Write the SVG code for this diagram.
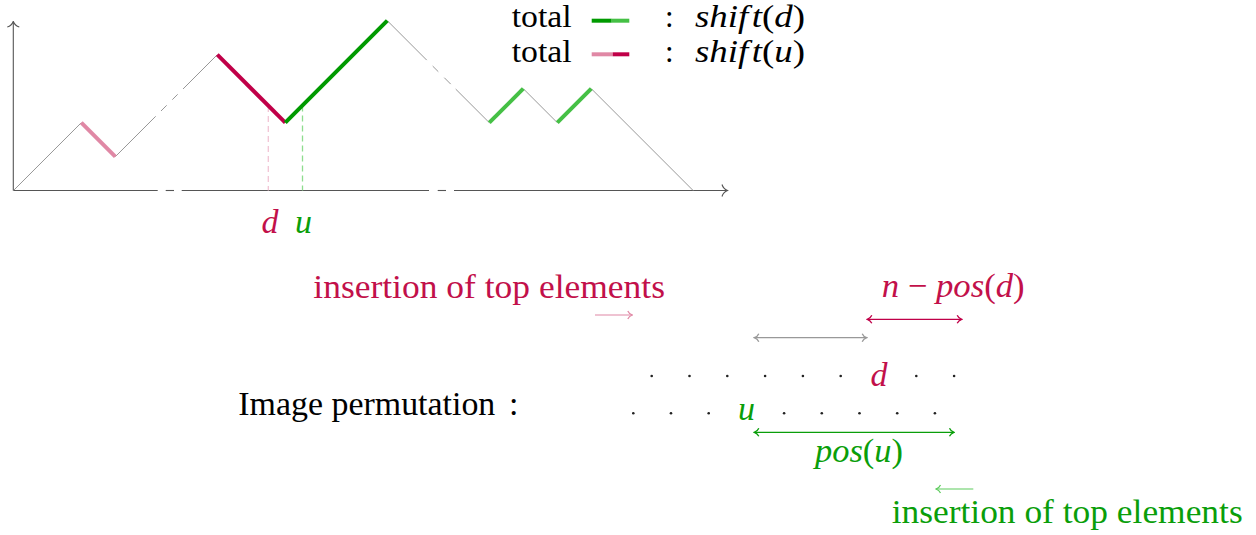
<svg xmlns="http://www.w3.org/2000/svg" width="1256" height="535" viewBox="0 0 1256 535">
<style>
text{font-family:'Liberation Serif','DejaVu Serif',serif}
.t{font-size:34px}
.lg{font-size:31px}
.i{font-style:italic}
.cr{fill:#C2104A}
.gr{fill:#0A9E0A}
.ax{stroke:#555;stroke-width:1.1;fill:none}
.pa{stroke:#8c8c8c;stroke-width:0.9;fill:none}
.thick{stroke-width:4;fill:none;stroke-linecap:butt}
.dot{fill:#222}
</style>
<defs>
<marker id="tipAx" viewBox="-7 -7 8 14" markerWidth="8" markerHeight="14" refX="0" refY="0" markerUnits="userSpaceOnUse" orient="auto-start-reverse">
<path d="M-5.5,-6 C-4.5,-2.5 -1.5,-0.6 0,0 C-1.5,0.6 -4.5,2.5 -5.5,6" fill="none" stroke="#555" stroke-width="1.1"/>
</marker>
<marker id="tipCr" viewBox="-6 -5 7 10" markerWidth="7" markerHeight="10" refX="0" refY="0" markerUnits="userSpaceOnUse" orient="auto-start-reverse">
<path d="M-4.5,-4 C-3.5,-1.6 -1.2,-0.4 0,0 C-1.2,0.4 -3.5,1.6 -4.5,4" fill="none" stroke="#C00048" stroke-width="1.3"/>
</marker>
<marker id="tipPk" viewBox="-6 -5 7 10" markerWidth="7" markerHeight="10" refX="0" refY="0" markerUnits="userSpaceOnUse" orient="auto-start-reverse">
<path d="M-4.5,-4 C-3.5,-1.6 -1.2,-0.4 0,0 C-1.2,0.4 -3.5,1.6 -4.5,4" fill="none" stroke="#E088A5" stroke-width="1.2"/>
</marker>
<marker id="tipGy" viewBox="-6 -5 7 10" markerWidth="7" markerHeight="10" refX="0" refY="0" markerUnits="userSpaceOnUse" orient="auto-start-reverse">
<path d="M-4.5,-4 C-3.5,-1.6 -1.2,-0.4 0,0 C-1.2,0.4 -3.5,1.6 -4.5,4" fill="none" stroke="#999" stroke-width="1.3"/>
</marker>
<marker id="tipGr" viewBox="-6 -5 7 10" markerWidth="7" markerHeight="10" refX="0" refY="0" markerUnits="userSpaceOnUse" orient="auto-start-reverse">
<path d="M-4.5,-4 C-3.5,-1.6 -1.2,-0.4 0,0 C-1.2,0.4 -3.5,1.6 -4.5,4" fill="none" stroke="#0A9E0A" stroke-width="1.3"/>
</marker>
<marker id="tipLg" viewBox="-6 -5 7 10" markerWidth="7" markerHeight="10" refX="0" refY="0" markerUnits="userSpaceOnUse" orient="auto-start-reverse">
<path d="M-4.5,-4 C-3.5,-1.6 -1.2,-0.4 0,0 C-1.2,0.4 -3.5,1.6 -4.5,4" fill="none" stroke="#5CCB5C" stroke-width="1.2"/>
</marker>
</defs>

<g id="axes">
<line class="ax" x1="13.3" y1="190.5" x2="13.3" y2="21.5" marker-end="url(#tipAx)"/>
<line class="ax" x1="13.3" y1="190.5" x2="157.7" y2="190.5"/>
<line class="ax" x1="165.7" y1="190.5" x2="174" y2="190.5"/>
<line class="ax" x1="181.7" y1="190.5" x2="429" y2="190.5"/>
<line class="ax" x1="437.7" y1="190.5" x2="446" y2="190.5"/>
<line class="ax" x1="454" y1="190.5" x2="727.5" y2="190.5" marker-end="url(#tipAx)"/>
</g>

<g id="path">
<line class="pa" x1="13.3" y1="190.7" x2="81.3" y2="122.7"/>
<line class="pa" x1="115.3" y1="156.7" x2="155.7" y2="116.3"/>
<line class="pa" x1="161" y1="111" x2="166.7" y2="105.3"/>
<line class="pa" x1="172.3" y1="99.7" x2="177.7" y2="94.3"/>
<line class="pa" x1="183" y1="89" x2="217.3" y2="54.7"/>
<line class="pa" x1="387.3" y1="20.7" x2="426.7" y2="60.1"/>
<line class="pa" x1="432.7" y1="66.1" x2="438.3" y2="71.7"/>
<line class="pa" x1="444.3" y1="77.7" x2="450.7" y2="84.1"/>
<line class="pa" x1="455.7" y1="89.1" x2="489.3" y2="122.7"/>
<line class="pa" x1="523.3" y1="88.7" x2="557.3" y2="122.7"/>
<line class="pa" x1="591.3" y1="88.7" x2="693.3" y2="190.7"/>
<line x1="268.3" y1="106" x2="268.3" y2="190.5" stroke="#F2C4D4" stroke-width="1.3" stroke-dasharray="6 4"/>
<line x1="302.5" y1="105.5" x2="302.5" y2="190.5" stroke="#8EDC8E" stroke-width="1.3" stroke-dasharray="6 4"/>
<line class="thick" stroke="#E088A5" x1="81.3" y1="122.7" x2="115.3" y2="156.7"/>
<line class="thick" stroke="#C00048" x1="217.3" y1="54.7" x2="285.3" y2="122.7"/>
<line class="thick" stroke="#009A00" x1="285.3" y1="122.7" x2="387.3" y2="20.7"/>
<line class="thick" stroke="#45C045" x1="489.3" y1="122.7" x2="523.3" y2="88.7"/>
<line class="thick" stroke="#45C045" x1="557.3" y1="122.7" x2="591.3" y2="88.7"/>
<text class="t i cr" x="261.5" y="232.5">d</text>
<text class="t i gr" x="295" y="232.5">u</text>
</g>

<g id="legend">
<text class="lg" x="511.7" y="27" textLength="60" lengthAdjust="spacingAndGlyphs">total</text>
<line x1="591.7" y1="20.7" x2="611.7" y2="20.7" stroke="#009A00" stroke-width="4"/>
<line x1="611.7" y1="20.7" x2="629.3" y2="20.7" stroke="#45C045" stroke-width="4"/>
<text class="lg" x="665" y="27">:</text>
<text class="lg" x="695" y="27" textLength="110" lengthAdjust="spacingAndGlyphs"><tspan class="i">shif</tspan><tspan class="i" dx="3">t</tspan>(<tspan class="i">d</tspan>)</text>
<text class="lg" x="511.7" y="61.5" textLength="60" lengthAdjust="spacingAndGlyphs">total</text>
<line x1="591.7" y1="54.3" x2="612.7" y2="54.3" stroke="#E088A5" stroke-width="4"/>
<line x1="612.7" y1="54.3" x2="629.3" y2="54.3" stroke="#C00048" stroke-width="4"/>
<text class="lg" x="665" y="61.5">:</text>
<text class="lg" x="695" y="61.5" textLength="110" lengthAdjust="spacingAndGlyphs"><tspan class="i">shif</tspan><tspan class="i" dx="3">t</tspan>(<tspan class="i">u</tspan>)</text>
</g>

<g id="label-image">
<text class="t" x="238.3" y="415" textLength="257" lengthAdjust="spacingAndGlyphs">Image permutation</text>
<text class="t" x="509" y="415">:</text>
</g>

<g id="row-top">
<circle class="dot" cx="651.7" cy="376" r="1.3"/>
<circle class="dot" cx="689.5" cy="376" r="1.3"/>
<circle class="dot" cx="727.3" cy="376" r="1.3"/>
<circle class="dot" cx="765.1" cy="376" r="1.3"/>
<circle class="dot" cx="802.9" cy="376" r="1.3"/>
<circle class="dot" cx="840.7" cy="376" r="1.3"/>
<text class="t i cr" x="870.5" y="386">d</text>
<circle class="dot" cx="916.3" cy="376" r="1.3"/>
<circle class="dot" cx="954.1" cy="376" r="1.3"/>
</g>

<g id="row-bottom">
<circle class="dot" cx="633.3" cy="413.3" r="1.3"/>
<circle class="dot" cx="671" cy="413.3" r="1.3"/>
<circle class="dot" cx="708.7" cy="413.3" r="1.3"/>
<text class="t i gr" x="738" y="420">u</text>
<circle class="dot" cx="784.1" cy="413.3" r="1.3"/>
<circle class="dot" cx="821.8" cy="413.3" r="1.3"/>
<circle class="dot" cx="859.5" cy="413.3" r="1.3"/>
<circle class="dot" cx="897.2" cy="413.3" r="1.3"/>
<circle class="dot" cx="934.9" cy="413.3" r="1.3"/>
</g>

<g id="connectors">
<line x1="595" y1="315" x2="632.3" y2="315" stroke="#E088A5" stroke-width="1.1" marker-end="url(#tipPk)"/>
<line x1="867.3" y1="319.3" x2="961.7" y2="319.3" stroke="#C00048" stroke-width="1.3" marker-start="url(#tipCr)" marker-end="url(#tipCr)"/>
<line x1="754.3" y1="337.7" x2="866.7" y2="337.7" stroke="#999" stroke-width="1.3" marker-start="url(#tipGy)" marker-end="url(#tipGy)"/>
<line x1="754.3" y1="432.3" x2="954" y2="432.3" stroke="#0A9E0A" stroke-width="1.3" marker-start="url(#tipGr)" marker-end="url(#tipGr)"/>
<line x1="973.3" y1="489" x2="936" y2="489" stroke="#5CCB5C" stroke-width="1.1" marker-end="url(#tipLg)"/>
</g>

<g id="labels">
<text class="t cr" x="313.3" y="298.3" textLength="351.7" lengthAdjust="spacingAndGlyphs">insertion of top elements</text>
<text class="t cr" x="881.7" y="297" textLength="143" lengthAdjust="spacingAndGlyphs"><tspan class="i">n</tspan> − <tspan class="i">pos</tspan>(<tspan class="i">d</tspan>)</text>
<text class="t gr" x="815" y="461.7" textLength="88" lengthAdjust="spacingAndGlyphs"><tspan class="i">pos</tspan>(<tspan class="i">u</tspan>)</text>
<text class="t gr" x="891.7" y="523.3" textLength="351" lengthAdjust="spacingAndGlyphs">insertion of top elements</text>
</g>
</svg>
